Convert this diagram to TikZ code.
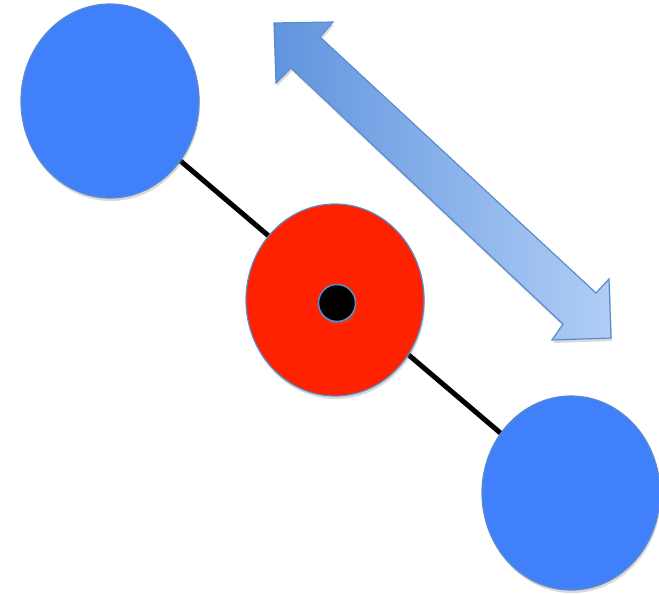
\documentclass[tikz,border=0pt]{standalone}
\usepackage{tikz}
\usetikzlibrary{shapes.geometric,shadows,backgrounds}
\definecolor{ballblue}{RGB}{64,128,250}
\definecolor{edgeblue}{RGB}{90,140,204}
\definecolor{pivotred}{RGB}{255,34,0}
\definecolor{arrowlight}{RGB}{176,206,246}
\definecolor{arrowdark}{RGB}{96,148,222}

\begin{document}
\begin{tikzpicture}[x=1pt,y=-1pt,
  soft/.style={drop shadow={shadow xshift=1pt,shadow yshift=-3pt,opacity=0.3}},
  mass/.style={ellipse,draw=edgeblue,line width=1.2pt,fill=ballblue,inner sep=0pt,
    minimum width=178pt,minimum height=194pt,soft},
  pivot/.style={ellipse,draw=edgeblue,line width=1.2pt,fill=pivotred,inner sep=0pt,
    minimum width=178pt,minimum height=192pt,soft},
  axle/.style={circle,draw=edgeblue,line width=1.5pt,fill=black,inner sep=0pt,
    minimum size=37pt,soft}]
  \useasboundingbox (0,0) rectangle (659,594);
  % the two masses and the pivot
  \node[mass] (M1) at (110,101) {};
  \node[mass] (M2) at (571,493) {};
  \node[pivot] (P) at (335,300) {};
  \node[axle] (O) at (337,303) {};
  % rod behind everything
  \begin{scope}[on background layer]
    \draw[line width=5pt] (M1.center) -- (M2.center);
  \end{scope}
  % double arrow
  \draw[draw=edgeblue,line width=1.2pt,left color=arrowdark,right color=arrowlight,soft]
    (274,23) -- (333,22) -- (320,37) -- (596,293) -- (609,279) -- (611,338)
    -- (552,340) -- (563,324) -- (291,68) -- (276,83) -- cycle;
\end{tikzpicture}
\end{document}
